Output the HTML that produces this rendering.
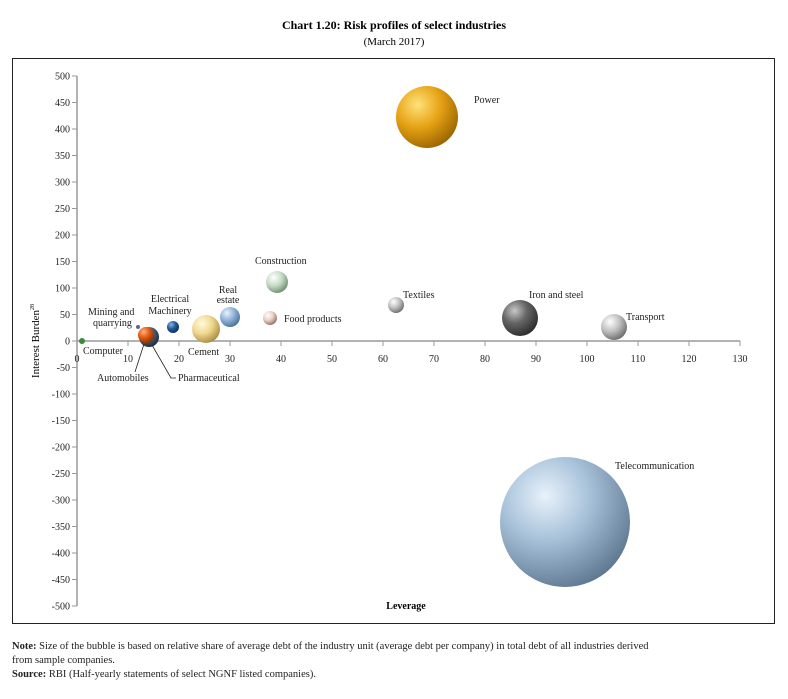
<!DOCTYPE html><html><head><style>
body{margin:0;background:#fff;width:788px;height:694px;overflow:hidden;font-family:"Liberation Serif",serif;}
</style></head><body>
<svg width="788" height="694" xmlns="http://www.w3.org/2000/svg" font-family="Liberation Serif, serif">
<defs>
<radialGradient id="gold" cx="0.35" cy="0.3" r="0.75"><stop offset="0" stop-color="#ffe27a"/><stop offset="0.5" stop-color="#e6a214"/><stop offset="1" stop-color="#9a6400"/></radialGradient>
<radialGradient id="blue" cx="0.35" cy="0.3" r="0.75"><stop offset="0" stop-color="#e8f2fb"/><stop offset="0.45" stop-color="#a8c2da"/><stop offset="1" stop-color="#5d7890"/></radialGradient>
<radialGradient id="green" cx="0.35" cy="0.3" r="0.75"><stop offset="0" stop-color="#ffffff"/><stop offset="0.5" stop-color="#c6dcc6"/><stop offset="1" stop-color="#6e8a70"/></radialGradient>
<radialGradient id="grey" cx="0.35" cy="0.3" r="0.75"><stop offset="0" stop-color="#ffffff"/><stop offset="0.5" stop-color="#c0c0c0"/><stop offset="1" stop-color="#6a6a6a"/></radialGradient>
<radialGradient id="dark" cx="0.35" cy="0.3" r="0.75"><stop offset="0" stop-color="#c8c8c8"/><stop offset="0.45" stop-color="#666"/><stop offset="1" stop-color="#2a2a2a"/></radialGradient>
<radialGradient id="cream" cx="0.35" cy="0.3" r="0.75"><stop offset="0" stop-color="#fffbe0"/><stop offset="0.5" stop-color="#f0d890"/><stop offset="1" stop-color="#a88a40"/></radialGradient>
<radialGradient id="lblue" cx="0.35" cy="0.3" r="0.75"><stop offset="0" stop-color="#e8f2ff"/><stop offset="0.5" stop-color="#8fb2d6"/><stop offset="1" stop-color="#4a6e96"/></radialGradient>
<radialGradient id="pink" cx="0.35" cy="0.3" r="0.75"><stop offset="0" stop-color="#fff"/><stop offset="0.5" stop-color="#e8cfc4"/><stop offset="1" stop-color="#907060"/></radialGradient>
<radialGradient id="dblue" cx="0.35" cy="0.3" r="0.75"><stop offset="0" stop-color="#8cb4e0"/><stop offset="0.5" stop-color="#1e5a9a"/><stop offset="1" stop-color="#0c2f5a"/></radialGradient>
<radialGradient id="orange" cx="0.35" cy="0.3" r="0.75"><stop offset="0" stop-color="#ffb080"/><stop offset="0.5" stop-color="#e05a10"/><stop offset="1" stop-color="#8a3000"/></radialGradient>
<radialGradient id="slate" cx="0.35" cy="0.3" r="0.75"><stop offset="0" stop-color="#90a8c0"/><stop offset="0.5" stop-color="#4a6078"/><stop offset="1" stop-color="#1e2a38"/></radialGradient>
</defs>
<text x="394" y="29" text-anchor="middle" font-size="12" font-weight="bold">Chart 1.20: Risk profiles of select industries</text>
<text x="394" y="45" text-anchor="middle" font-size="11">(March 2017)</text>
<rect x="12.5" y="58.5" width="762" height="565" fill="none" stroke="#222" stroke-width="1"/>
<g stroke="#999" stroke-width="1.5">
<line x1="77" y1="76" x2="77" y2="606"/>
<line x1="77" y1="341" x2="740" y2="341"/>
</g>
<g stroke="#999" stroke-width="1">
<line x1="72" y1="76" x2="77" y2="76"/><line x1="72" y1="102.5" x2="77" y2="102.5"/><line x1="72" y1="129" x2="77" y2="129"/><line x1="72" y1="155.5" x2="77" y2="155.5"/><line x1="72" y1="182" x2="77" y2="182"/><line x1="72" y1="208.5" x2="77" y2="208.5"/><line x1="72" y1="235" x2="77" y2="235"/><line x1="72" y1="261.5" x2="77" y2="261.5"/><line x1="72" y1="288" x2="77" y2="288"/><line x1="72" y1="314.5" x2="77" y2="314.5"/><line x1="72" y1="341" x2="77" y2="341"/><line x1="72" y1="367.5" x2="77" y2="367.5"/><line x1="72" y1="394" x2="77" y2="394"/><line x1="72" y1="420.5" x2="77" y2="420.5"/><line x1="72" y1="447" x2="77" y2="447"/><line x1="72" y1="473.5" x2="77" y2="473.5"/><line x1="72" y1="500" x2="77" y2="500"/><line x1="72" y1="526.5" x2="77" y2="526.5"/><line x1="72" y1="553" x2="77" y2="553"/><line x1="72" y1="579.5" x2="77" y2="579.5"/><line x1="72" y1="606" x2="77" y2="606"/>
<line x1="128" y1="341" x2="128" y2="346"/><line x1="179" y1="341" x2="179" y2="346"/><line x1="230" y1="341" x2="230" y2="346"/><line x1="281" y1="341" x2="281" y2="346"/><line x1="332" y1="341" x2="332" y2="346"/><line x1="383" y1="341" x2="383" y2="346"/><line x1="434" y1="341" x2="434" y2="346"/><line x1="485" y1="341" x2="485" y2="346"/><line x1="536" y1="341" x2="536" y2="346"/><line x1="587" y1="341" x2="587" y2="346"/><line x1="638" y1="341" x2="638" y2="346"/><line x1="689" y1="341" x2="689" y2="346"/><line x1="740" y1="341" x2="740" y2="346"/>
</g>
<g font-size="10" fill="#222" text-anchor="end">
<text x="70" y="79.5">500</text><text x="70" y="106">450</text><text x="70" y="132.5">400</text><text x="70" y="159">350</text><text x="70" y="185.5">300</text><text x="70" y="212">250</text><text x="70" y="238.5">200</text><text x="70" y="265">150</text><text x="70" y="291.5">100</text><text x="70" y="318">50</text><text x="70" y="344.5">0</text><text x="70" y="371">-50</text><text x="70" y="397.5">-100</text><text x="70" y="424">-150</text><text x="70" y="450.5">-200</text><text x="70" y="477">-250</text><text x="70" y="503.5">-300</text><text x="70" y="530">-350</text><text x="70" y="556.5">-400</text><text x="70" y="583">-450</text><text x="70" y="609.5">-500</text>
</g>
<g font-size="10" fill="#222" text-anchor="middle">
<text x="77" y="362">0</text><text x="128" y="362">10</text><text x="179" y="362">20</text><text x="230" y="362">30</text><text x="281" y="362">40</text><text x="332" y="362">50</text><text x="383" y="362">60</text><text x="434" y="362">70</text><text x="485" y="362">80</text><text x="536" y="362">90</text><text x="587" y="362">100</text><text x="638" y="362">110</text><text x="689" y="362">120</text><text x="740" y="362">130</text>
</g>
<text transform="translate(39,341) rotate(-90)" text-anchor="middle" font-size="11">Interest Burden<tspan font-size="6" dy="-5">28</tspan></text>
<text x="406" y="609" text-anchor="middle" font-size="10" font-weight="bold">Leverage</text>
<circle cx="427" cy="117" r="31" fill="url(#gold)"/>
<circle cx="565" cy="522" r="65" fill="url(#blue)"/>
<circle cx="277" cy="282" r="11" fill="url(#green)"/>
<circle cx="396" cy="305" r="8" fill="url(#grey)"/>
<circle cx="520" cy="318" r="18" fill="url(#dark)"/>
<circle cx="614" cy="327" r="13" fill="url(#grey)"/>
<circle cx="270" cy="318" r="7" fill="url(#pink)"/>
<circle cx="230" cy="317" r="10" fill="url(#lblue)"/>
<circle cx="206" cy="329" r="14" fill="url(#cream)"/>
<circle cx="173" cy="327" r="6" fill="url(#dblue)"/>
<circle cx="138" cy="327" r="2" fill="#667"/>
<circle cx="149" cy="337" r="10" fill="url(#slate)"/>
<circle cx="146" cy="335" r="8" fill="url(#orange)"/>
<circle cx="82" cy="341" r="3" fill="#3a8a3a"/>
<g stroke="#222" stroke-width="0.8" fill="none">
<line x1="144" y1="344" x2="135" y2="372"/>
<polyline points="152,345 171,378 176,378"/>
</g>
<g font-size="10" fill="#222">
<text x="474" y="103">Power</text>
<text x="615" y="469">Telecommunication</text>
<text x="255" y="264">Construction</text>
<text x="403" y="298">Textiles</text>
<text x="529" y="298">Iron and steel</text>
<text x="626" y="320">Transport</text>
<text x="284" y="322">Food products</text>
<text x="228" y="293" text-anchor="middle">Real</text>
<text x="228" y="303" text-anchor="middle">estate</text>
<text x="188" y="355">Cement</text>
<text x="170" y="302" text-anchor="middle">Electrical</text>
<text x="170" y="314" text-anchor="middle">Machinery</text>
<text x="88" y="315">Mining  and</text>
<text x="93" y="326">quarrying</text>
<text x="83" y="354">Computer</text>
<text x="97" y="381">Automobiles</text>
<text x="178" y="381">Pharmaceutical</text>
</g>
<g font-size="10.5" fill="#222">
<text x="12" y="649"><tspan font-weight="bold">Note:</tspan> Size of the bubble is based on relative share of average debt of the industry unit (average debt per company) in total debt of all industries derived</text>
<text x="12" y="663">from sample companies.</text>
<text x="12" y="677"><tspan font-weight="bold">Source:</tspan> RBI (Half-yearly statements of select NGNF listed companies).</text>
</g>
</svg>
</body></html>
